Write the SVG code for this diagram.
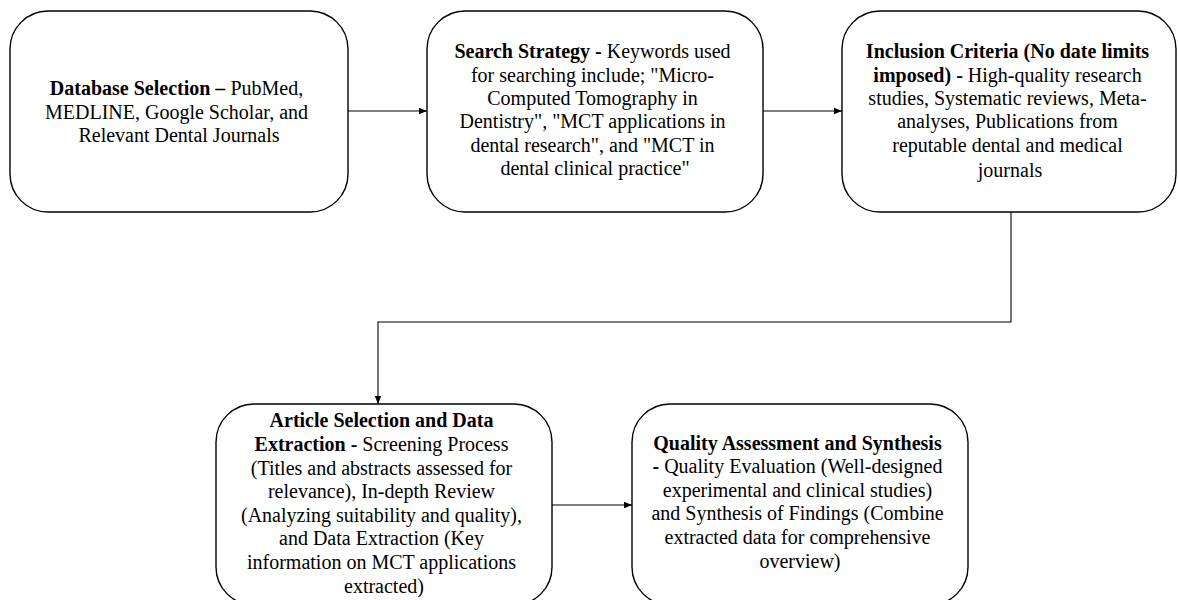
<svg xmlns="http://www.w3.org/2000/svg" width="1178" height="600" viewBox="0 0 1178 600">
  <style>
    .box { fill: #ffffff; stroke: #000000; stroke-width: 1.4; }
    .txt { font-family: "Liberation Serif", "Times New Roman", serif; font-size: 20px; fill: #000000; text-anchor: middle; }
    .b { font-weight: bold; }
    .conn { fill: none; stroke: #000000; stroke-width: 1.1; marker-end: url(#arrow); }
  </style>
  <defs>
    <marker id="arrow" viewBox="0 0 10 10" refX="10" refY="5" markerWidth="8" markerHeight="8" markerUnits="userSpaceOnUse" orient="auto">
      <path d="M0,1 L10,5 L0,9 Z" fill="#000000"/>
    </marker>
  </defs>
  <rect width="1178" height="600" fill="#ffffff"/>

  <g id="connectors">
    <path class="conn" d="M348,111 L427,111"/>
    <path class="conn" d="M763,111 L842,111"/>
    <path class="conn" d="M1011,212 L1011,322 L378,322 L378,404"/>
    <path class="conn" d="M552,505 L632,505"/>
  </g>

  <g id="database-selection">
    <rect class="box" x="10" y="11" width="338" height="201" rx="38" ry="38"/>
    <text class="txt">
      <tspan x="179" y="95"><tspan class="b">Database Selection –</tspan> PubMed,</tspan>
      <tspan x="179" y="119">MEDLINE, Google Scholar, and</tspan>
      <tspan x="179" y="142">Relevant Dental Journals</tspan>
    </text>
  </g>

  <g id="search-strategy">
    <rect class="box" x="427" y="11" width="336" height="201" rx="38" ry="38"/>
    <text class="txt">
      <tspan x="595" y="58"><tspan class="b">Search Strategy -</tspan> Keywords used</tspan>
      <tspan x="595" y="82">for searching include; "Micro-</tspan>
      <tspan x="595" y="105">Computed Tomography in</tspan>
      <tspan x="595" y="128">Dentistry", "MCT applications in</tspan>
      <tspan x="595" y="152">dental research", and "MCT in</tspan>
      <tspan x="595" y="175">dental clinical practice"</tspan>
    </text>
  </g>

  <g id="inclusion-criteria">
    <rect class="box" x="842" y="11" width="334" height="201" rx="38" ry="38"/>
    <text class="txt">
      <tspan x="1010" y="58" class="b">Inclusion Criteria (No date limits</tspan>
      <tspan x="1010" y="82"><tspan class="b">imposed) -</tspan> High-quality research</tspan>
      <tspan x="1010" y="105">studies, Systematic reviews, Meta-</tspan>
      <tspan x="1010" y="128">analyses, Publications from</tspan>
      <tspan x="1010" y="152">reputable dental and medical</tspan>
      <tspan x="1010" y="177">journals</tspan>
    </text>
  </g>

  <g id="article-selection">
    <rect class="box" x="216" y="404" width="336" height="201" rx="38" ry="38"/>
    <text class="txt">
      <tspan x="384" y="427" class="b">Article Selection and Data</tspan>
      <tspan x="384" y="451"><tspan class="b">Extraction -</tspan> Screening Process</tspan>
      <tspan x="384" y="475">(Titles and abstracts assessed for</tspan>
      <tspan x="384" y="498">relevance), In-depth Review</tspan>
      <tspan x="384" y="522">(Analyzing suitability and quality),</tspan>
      <tspan x="384" y="545">and Data Extraction (Key</tspan>
      <tspan x="384" y="569">information on MCT applications</tspan>
      <tspan x="384" y="593">extracted)</tspan>
    </text>
  </g>

  <g id="quality-assessment">
    <rect class="box" x="632" y="404" width="336" height="201" rx="38" ry="38"/>
    <text class="txt">
      <tspan x="800" y="450" class="b">Quality Assessment and Synthesis</tspan>
      <tspan x="800" y="473"><tspan class="b">-</tspan> Quality Evaluation (Well-designed</tspan>
      <tspan x="800" y="497">experimental and clinical studies)</tspan>
      <tspan x="800" y="520">and Synthesis of Findings (Combine</tspan>
      <tspan x="800" y="544">extracted data for comprehensive</tspan>
      <tspan x="800" y="568">overview)</tspan>
    </text>
  </g>
</svg>
